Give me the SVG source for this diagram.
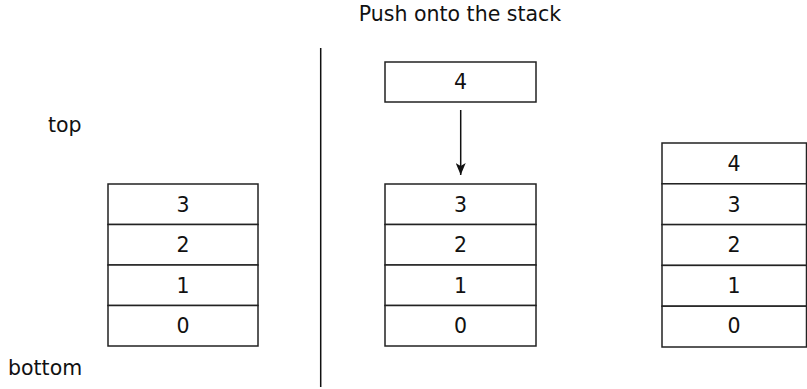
<svg xmlns="http://www.w3.org/2000/svg" width="807" height="389" viewBox="0 0 807 389">
<defs>
<style>
.cell{fill:#fff;stroke:#222;stroke-width:1.5}
.t{font-family:"DejaVu Sans",sans-serif;font-size:20.5px;fill:#111;text-anchor:middle}
.l{font-family:"DejaVu Sans",sans-serif;font-size:20.5px;fill:#111}
.conn{stroke:#111;stroke-width:1.5;fill:none}
</style>
<marker id="ah" viewBox="0 0 12 10" refX="12" refY="5" markerWidth="12" markerHeight="10" markerUnits="userSpaceOnUse" orient="auto">
<path d="M0,0 L12,5 L0,10 L3,5 Z" fill="#111"/>
</marker>
</defs>
<rect width="807" height="389" fill="#fff"/>
<text class="t" x="460" y="20.5">Push onto the stack</text>
<text class="l" x="48" y="132">top</text>
<text class="l" x="8" y="375">bottom</text>
<line x1="320.7" y1="48" x2="320.7" y2="387" stroke="#111" stroke-width="1.5"/>

<g id="left-stack">
<g id="left-3"><rect class="cell" x="108" y="184" width="150" height="40.5"/><text class="t" x="183" y="211.5">3</text></g>
<g id="left-2"><rect class="cell" x="108" y="224.5" width="150" height="40.5"/><text class="t" x="183" y="252">2</text></g>
<g id="left-1"><rect class="cell" x="108" y="265" width="150" height="40.5"/><text class="t" x="183" y="292.5">1</text></g>
<g id="left-0"><rect class="cell" x="108" y="305.5" width="150" height="40.5"/><text class="t" x="183" y="333">0</text></g>
</g>

<g id="new-4"><rect class="cell" x="385" y="62" width="151" height="40"/><text class="t" x="460.5" y="89">4</text></g>

<g id="mid-stack">
<g id="mid-3"><rect class="cell" x="385" y="184" width="151" height="40.5"/><text class="t" x="460.5" y="211.5">3</text></g>
<g id="mid-2"><rect class="cell" x="385" y="224.5" width="151" height="40.5"/><text class="t" x="460.5" y="252">2</text></g>
<g id="mid-1"><rect class="cell" x="385" y="265" width="151" height="40.5"/><text class="t" x="460.5" y="292.5">1</text></g>
<g id="mid-0"><rect class="cell" x="385" y="305.5" width="151" height="40.5"/><text class="t" x="460.5" y="333">0</text></g>
</g>

<g id="right-stack">
<g id="right-4"><rect class="cell" x="662" y="143" width="144.5" height="40.8"/><text class="t" x="734" y="170.5">4</text></g>
<g id="right-3"><rect class="cell" x="662" y="183.8" width="144.5" height="40.8"/><text class="t" x="734" y="211.5">3</text></g>
<g id="right-2"><rect class="cell" x="662" y="224.6" width="144.5" height="40.8"/><text class="t" x="734" y="252">2</text></g>
<g id="right-1"><rect class="cell" x="662" y="265.4" width="144.5" height="40.8"/><text class="t" x="734" y="292.5">1</text></g>
<g id="right-0"><rect class="cell" x="662" y="306.2" width="144.5" height="40.8"/><text class="t" x="734" y="333">0</text></g>
</g>

<g id="connectors">
<line class="conn" x1="460.7" y1="110" x2="460.7" y2="175" marker-end="url(#ah)"/>
</g>
</svg>
